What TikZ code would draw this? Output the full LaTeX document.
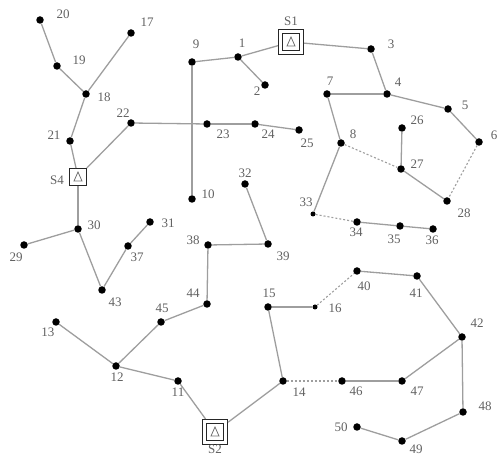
\documentclass[tikz,border=0pt]{standalone}
\usepackage{fontspec}
\setmainfont{Liberation Serif}
\begin{document}
\begin{tikzpicture}[x=1pt,y=-1pt,
  bus/.style={circle,fill=black,inner sep=0pt,minimum size=7.5pt},
  sbus/.style={circle,fill=black,inner sep=0pt,minimum size=5pt},
  lbl/.style={font=\fontsize{13}{13}\selectfont,text=black!62,inner sep=0pt},
  ln/.style={draw=black!38,line width=1.3pt},
  tie/.style={draw=black!38,line width=1.1pt,dash pattern=on 2pt off 2pt},
  subd/.style={draw=black!85,line width=1.1pt,rectangle,inner sep=0pt,minimum size=25pt,fill=white,
    path picture={
      \draw[black!85,line width=1pt] (path picture bounding box.center) ++(-8.5pt,-8.5pt) rectangle ++(17pt,17pt);
      \draw[black!55,line width=0.8pt] (path picture bounding box.center) ++(-4pt,-4pt) -- ++(8pt,0pt) -- ++(-4pt,9pt) -- cycle;}},
  subs/.style={draw=black!85,line width=1.1pt,rectangle,inner sep=0pt,minimum size=17pt,fill=white,
    path picture={
      \draw[black!55,line width=0.8pt] (path picture bounding box.center) ++(-4pt,-4pt) -- ++(8pt,0pt) -- ++(-4pt,9pt) -- cycle;}}]
\useasboundingbox (0,0) rectangle (499,457);

% buses
\node[bus] (n1) at (238,57) {};
\node[bus] (n2) at (265,85) {};
\node[bus] (n3) at (371,49) {};
\node[bus] (n4) at (387,94) {};
\node[bus] (n5) at (448,109) {};
\node[bus] (n6) at (479,142) {};
\node[bus] (n7) at (327,94) {};
\node[bus] (n8) at (341,143) {};
\node[bus] (n9) at (192,62) {};
\node[bus] (n10) at (192,199) {};
\node[bus] (n11) at (178,381) {};
\node[bus] (n12) at (116,366) {};
\node[bus] (n13) at (56,322) {};
\node[bus] (n14) at (283,381) {};
\node[bus] (n15) at (268,307) {};
\node[sbus] (n16) at (315,307) {};
\node[bus] (n17) at (131,33) {};
\node[bus] (n18) at (86,94) {};
\node[bus] (n19) at (57,66) {};
\node[bus] (n20) at (40,20) {};
\node[bus] (n21) at (70,141) {};
\node[bus] (n22) at (131,123) {};
\node[bus] (n23) at (207,124) {};
\node[bus] (n24) at (255,124) {};
\node[bus] (n25) at (299,130) {};
\node[bus] (n26) at (402,128) {};
\node[bus] (n27) at (401,169) {};
\node[bus] (n28) at (447,201) {};
\node[bus] (n29) at (24,245) {};
\node[bus] (n30) at (78,229) {};
\node[bus] (n31) at (150,222) {};
\node[bus] (n32) at (245,184) {};
\node[sbus] (n33) at (313,214) {};
\node[bus] (n34) at (357,222) {};
\node[bus] (n35) at (400,226) {};
\node[bus] (n36) at (433,229) {};
\node[bus] (n37) at (128,246) {};
\node[bus] (n38) at (208,245) {};
\node[bus] (n39) at (268,244) {};
\node[bus] (n40) at (357,271) {};
\node[bus] (n41) at (417,276) {};
\node[bus] (n42) at (462,337) {};
\node[bus] (n43) at (102,290) {};
\node[bus] (n44) at (207,304) {};
\node[bus] (n45) at (161,322) {};
\node[bus] (n46) at (342,381) {};
\node[bus] (n47) at (402,381) {};
\node[bus] (n48) at (463,412) {};
\node[bus] (n49) at (402,441) {};
\node[bus] (n50) at (357,427) {};
\node[subd] (S1) at (291,42) {};
\node[subd] (S2) at (215,432) {};
\node[subs] (S4) at (78,177) {};

% lines
\draw[ln] (S1) -- (n1);
\draw[ln] (n1) -- (n9);
\draw[ln] (n1) -- (n2);
\draw[ln] (S1) -- (n3);
\draw[ln] (n3) -- (n4);
\draw[ln] (n4) -- (n7);
\draw[ln] (n4) -- (n5);
\draw[ln] (n5) -- (n6);
\draw[ln] (n7) -- (n8);
\draw[ln] (n26) -- (n27);
\draw[ln] (n27) -- (n28);
\draw[ln] (n8) -- (n33);
\draw[ln] (n34) -- (n35);
\draw[ln] (n35) -- (n36);
\draw[ln] (n9) -- (n10);
\draw[ln] (n22) -- (n23);
\draw[ln] (n23) -- (n24);
\draw[ln] (n24) -- (n25);
\draw[ln] (n22) -- (S4);
\draw[ln] (n21) -- (S4);
\draw[ln] (n21) -- (n18);
\draw[ln] (n18) -- (n19);
\draw[ln] (n19) -- (n20);
\draw[ln] (n18) -- (n17);
\draw[ln] (S4) -- (n30);
\draw[ln] (n30) -- (n29);
\draw[ln] (n30) -- (n43);
\draw[ln] (n43) -- (n37);
\draw[ln] (n37) -- (n31);
\draw[ln] (n32) -- (n39);
\draw[ln] (n39) -- (n38);
\draw[ln] (n38) -- (n44);
\draw[ln] (n44) -- (n45);
\draw[ln] (n45) -- (n12);
\draw[ln] (n12) -- (n13);
\draw[ln] (n12) -- (n11);
\draw[ln] (n11) -- (S2);
\draw[ln] (S2) -- (n14);
\draw[ln] (n14) -- (n15);
\draw[ln] (n15) -- (n16);
\draw[ln] (n40) -- (n41);
\draw[ln] (n41) -- (n42);
\draw[ln] (n42) -- (n47);
\draw[ln] (n47) -- (n46);
\draw[ln] (n42) -- (n48);
\draw[ln] (n48) -- (n49);
\draw[ln] (n49) -- (n50);
% tie lines
\draw[tie] (n6) -- (n28);
\draw[tie] (n8) -- (n27);
\draw[tie] (n33) -- (n34);
\draw[tie] (n16) -- (n40);
\draw[tie] (n14) -- (n46);

% labels
\node[lbl] (l1) at (242,43) {1};
\node[lbl] (l2) at (257,91) {2};
\node[lbl] (l3) at (391,44) {3};
\node[lbl] (l4) at (398,82) {4};
\node[lbl] (l5) at (465,105) {5};
\node[lbl] (l6) at (494,135) {6};
\node[lbl] (l7) at (330,81) {7};
\node[lbl] (l8) at (353,134) {8};
\node[lbl] (l9) at (196,44) {9};
\node[lbl] (l10) at (208,194) {10};
\node[lbl] (l11) at (178,392) {11};
\node[lbl] (l12) at (117,377) {12};
\node[lbl] (l13) at (48,332) {13};
\node[lbl] (l14) at (299,392) {14};
\node[lbl] (l15) at (269,293) {15};
\node[lbl] (l16) at (335,308) {16};
\node[lbl] (l17) at (147,22) {17};
\node[lbl] (l18) at (104,97) {18};
\node[lbl] (l19) at (79,60) {19};
\node[lbl] (l20) at (63,14) {20};
\node[lbl] (l21) at (54,135) {21};
\node[lbl] (l22) at (123,113) {22};
\node[lbl] (l23) at (223,134) {23};
\node[lbl] (l24) at (268,134) {24};
\node[lbl] (l25) at (307,143) {25};
\node[lbl] (l26) at (417,120) {26};
\node[lbl] (l27) at (417,164) {27};
\node[lbl] (l28) at (464,213) {28};
\node[lbl] (l29) at (16,257) {29};
\node[lbl] (l30) at (94,225) {30};
\node[lbl] (l31) at (168,223) {31};
\node[lbl] (l32) at (245,173) {32};
\node[lbl] (l33) at (306,202) {33};
\node[lbl] (l34) at (356,232) {34};
\node[lbl] (l35) at (394,239) {35};
\node[lbl] (l36) at (432,240) {36};
\node[lbl] (l37) at (137,257) {37};
\node[lbl] (l38) at (193,240) {38};
\node[lbl] (l39) at (283,256) {39};
\node[lbl] (l40) at (364,286) {40};
\node[lbl] (l41) at (416,293) {41};
\node[lbl] (l42) at (477,323) {42};
\node[lbl] (l43) at (115,302) {43};
\node[lbl] (l44) at (193,293) {44};
\node[lbl] (l45) at (162,308) {45};
\node[lbl] (l46) at (356,391) {46};
\node[lbl] (l47) at (417,391) {47};
\node[lbl] (l48) at (485,406) {48};
\node[lbl] (l49) at (416,449) {49};
\node[lbl] (l50) at (341,427) {50};
\node[lbl] (lS1) at (291,21) {S1};
\node[lbl] (lS2) at (215,449) {S2};
\node[lbl] (lS4) at (57,180) {S4};
\end{tikzpicture}
\end{document}
